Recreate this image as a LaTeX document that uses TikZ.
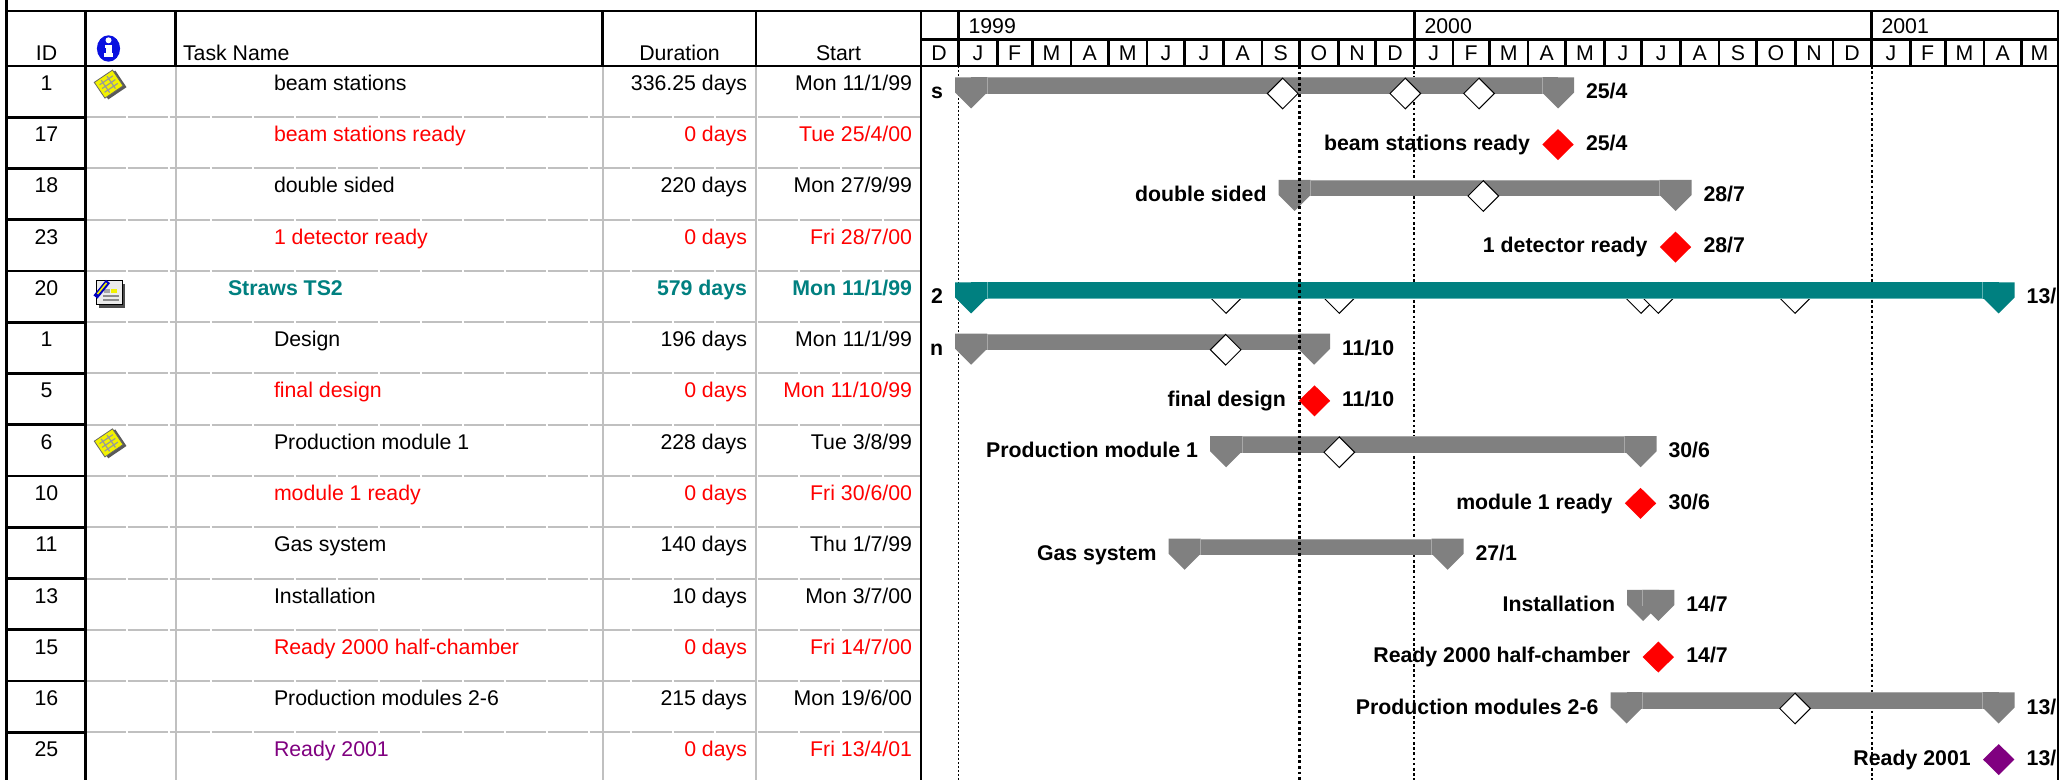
\documentclass[tikz,border=0pt]{standalone}
\usepackage{fontspec}
\setmainfont{Liberation Sans}
\definecolor{tealc}{HTML}{008080}
\definecolor{tealhi}{HTML}{5FB3B3}
\definecolor{barg}{HTML}{808080}
\definecolor{barhi}{HTML}{A8A8A8}
\definecolor{gridg}{HTML}{C0C0C0}
\definecolor{msred}{HTML}{FF0000}
\definecolor{mspurple}{HTML}{800080}
\definecolor{infoblue}{HTML}{0A10E0}
\definecolor{noteyel}{HTML}{F2F200}

\newcommand\rowtop[1]{\pgfmathsetmacro\rT{66+51.25*(#1-1)}}
% table row: row, id, name x, name, name style, duration, start, data style
\newcommand\taskrow[8]{%
  \rowtop{#1}%
  \pgfmathsetmacro\rB{\rT+24.5}%
  \node[txt,anchor=base] (id#1) at (46.5,\rB) {#2};
  \node[txt,anchor=base west,#5] (nm#1) at (#3,\rB) {#4};
  \node[txt,anchor=base east,#8] (du#1) at (747,\rB) {#6};
  \node[txt,anchor=base east,#8] (st#1) at (912,\rB) {#7};
}
% summary cap: x, row top, colour
\newcommand\gcap[3]{%
  \fill[#3] ({#1-16},{#2+11.3}) -- ({#1+16},{#2+11.3}) -- ({#1+16},{#2+26.5})
    -- (#1,{#2+42.5}) -- ({#1-16},{#2+26.5}) -- cycle;}
% summary bar: row, xs, xe, colour, highlight y offset, highlight colour
\newcommand\sbar[6]{%
  \rowtop{#1}%
  \fill[#4] (#2,{\rT+11.3}) rectangle (#3,{\rT+28});
  \draw[#6,line width=0.5pt] ({#2+16},{\rT+#5}) -- ({#3-16},{\rT+#5});
  \gcap{#2}{\rT}{#4}
  \gcap{#3}{\rT}{#4}
  \draw[#6,line width=0.5pt] ({#2+16},{\rT+11.3}) -- ({#2+16},{\rT+28});
  \draw[#6,line width=0.5pt] ({#3-16},{\rT+11.3}) -- ({#3-16},{\rT+28});
}
% milestone: x, row top, colour
\newcommand\mstone[3]{%
  \fill[#3] ({#1-15.7},{#2+27.3}) -- (#1,{#2+11.8}) -- ({#1+15.7},{#2+27.3})
    -- (#1,{#2+42.8}) -- cycle;}
% rolled-up white diamond: x, centre y
\newcommand\wdiam[2]{%
  \filldraw[fill=white,draw=black,line width=0.5pt] ({#1-15.3},#2) -- (#1,{#2-15.3})
    -- ({#1+15.3},#2) -- (#1,{#2+15.3}) -- cycle;}
% bar labels: x of bar end, row top, text, name
\newcommand\llab[4]{\node[lab,anchor=base east] (#4) at ({#1-28},{#2+33}) {#3};}
\newcommand\rlab[4]{\node[lab,anchor=base west] (#4) at ({#1+28},{#2+33}) {#3};}
% note icon
\newcommand\noteicon[2]{%
  \begin{scope}[shift={(#1,#2)},rotate=34]
    \fill[black!65] (-9,-8) rectangle (13,12);
    \filldraw[fill=noteyel,draw=black!60,line width=0.4pt] (-11,-10) rectangle (11,9);
    \draw[black!40,line width=0.6pt] (-8,-5) -- (8,-5) (-8,-0.5) -- (8,-0.5) (-8,4) -- (8,4)
      (-4,-8) -- (-4,7) (3,-8) -- (3,7);
  \end{scope}}

\begin{document}
\begin{tikzpicture}[x=0.5pt,y=-0.5pt,
  txt/.style={inner sep=0pt,outer sep=0pt,font=\fontsize{10.65}{12.8}\selectfont},
  lab/.style={inner sep=0pt,outer sep=0pt,font=\fontsize{10.65}{12.8}\selectfont\bfseries},
  crit/.style={text=msred},
  summ/.style={text=tealc,font=\fontsize{10.65}{12.8}\selectfont\bfseries},
  purp/.style={text=mspurple},
  blk/.style={line width=1.3pt,draw=black},
  gridl/.style={line width=1pt,draw=gridg},
  gridh/.style={line width=1pt,draw=gridg,dash pattern=on 20.2pt off 0.8pt},
  thindot/.style={line width=0.5pt,draw=black,dash pattern=on 1pt off 1pt},
  meddot/.style={line width=1pt,draw=black,dash pattern=on 1.3pt off 1.3pt},
  nowdot/.style={line width=1.4pt,draw=black,dash pattern=on 1.4pt off 1.4pt}]

\fill[white] (0,0) rectangle (2060,780);
\useasboundingbox (0,0) rectangle (2060,780);

% ---------- table grid ----------
\foreach \k in {1,...,13} {\pgfmathsetmacro\yy{66+51.25*\k}\draw[gridh] (85.7,\yy) -- (921,\yy);}
\foreach \xx in {175.7,602.7,756} \draw[gridl] (\xx,66) -- (\xx,780);
\foreach \k in {1,...,13} {\pgfmathsetmacro\yy{66+51.25*\k}\draw[blk] (6.3,\yy) -- (85.7,\yy);}
\draw[blk] (6.3,0) -- (6.3,780);
\draw[blk] (5,11) -- (2059,11);
\draw[blk] (5,66) -- (2059,66);
\draw[blk] (85.7,11) -- (85.7,780);
\draw[blk] (921,11) -- (921,780);
\draw[blk] (2057.8,11) -- (2057.8,780);
\foreach \xx in {175.7,602.7,756} \draw[blk] (\xx,11) -- (\xx,66);
\draw[blk] (921,39.3) -- (2057.8,39.3);
\foreach \d in {0,365,731} \draw[blk] ({958.5+1.249*\d},11) -- ({958.5+1.249*\d},39.3);
\foreach \d in {0,31,59,90,120,151,181,212,243,273,304,334,365,396,425,456,486,517,547,578,609,639,670,700,731,762,790,821,851}
  \draw[blk] ({958.5+1.249*\d},39.3) -- ({958.5+1.249*\d},66);

% ---------- header ----------
\node[txt,anchor=base] (hID) at (46.5,60.5) {ID};
\fill[infoblue] (108.5,48.5) ellipse [x radius=5.8pt, y radius=6.6pt];
\fill[white] (108.5,40.3) circle [radius=1.5pt];
\fill[white] (104.5,45) rectangle (111.5,48);
\fill[white] (106.2,45) rectangle (111.5,55);
\fill[white] (104,53) rectangle (113,56.8);
\node[txt,anchor=base west] (hTN) at (183,60.5) {Task Name};
\node[txt,anchor=base] (hDur) at (679.5,60.5) {Duration};
\node[txt,anchor=base] (hSt) at (838.5,60.5) {Start};
\node[txt,anchor=base west] (y1999) at (968.5,33.3) {1999};
\node[txt,anchor=base west] (y2000) at (1424.5,33.3) {2000};
\node[txt,anchor=base west] (y2001) at (1881.5,33.3) {2001};
\foreach \a/\b/\m [count=\k] in {-31/0/D,0/31/J,31/59/F,59/90/M,90/120/A,120/151/M,151/181/J,181/212/J,212/243/A,243/273/S,273/304/O,304/334/N,334/365/D,365/396/J,396/425/F,425/456/M,456/486/A,486/517/M,517/547/J,547/578/J,578/609/A,609/639/S,639/670/O,670/700/N,700/731/D,731/762/J,762/790/F,790/821/M,821/851/A,851/880/M}
  \node[txt,anchor=base] (mo\k) at ({958.5+1.249*(\a+\b)/2},60.5) {\m};

% ---------- table rows ----------
\taskrow{1}{1}{274}{beam stations}{}{336.25 days}{Mon 11/1/99}{}
\taskrow{2}{17}{274}{beam stations ready}{crit}{0 days}{Tue 25/4/00}{crit}
\taskrow{3}{18}{274}{double sided}{}{220 days}{Mon 27/9/99}{}
\taskrow{4}{23}{274}{1 detector ready}{crit}{0 days}{Fri 28/7/00}{crit}
\taskrow{5}{20}{228}{Straws TS2}{summ}{579 days}{Mon 11/1/99}{summ}
\taskrow{6}{1}{274}{Design}{}{196 days}{Mon 11/1/99}{}
\taskrow{7}{5}{274}{final design}{crit}{0 days}{Mon 11/10/99}{crit}
\taskrow{8}{6}{274}{Production module 1}{}{228 days}{Tue 3/8/99}{}
\taskrow{9}{10}{274}{module 1 ready}{crit}{0 days}{Fri 30/6/00}{crit}
\taskrow{10}{11}{274}{Gas system}{}{140 days}{Thu 1/7/99}{}
\taskrow{11}{13}{274}{Installation}{}{10 days}{Mon 3/7/00}{}
\taskrow{12}{15}{274}{Ready 2000 half-chamber}{crit}{0 days}{Fri 14/7/00}{crit}
\taskrow{13}{16}{274}{Production modules 2-6}{}{215 days}{Mon 19/6/00}{}
\taskrow{14}{25}{274}{Ready 2001}{purp}{0 days}{Fri 13/4/01}{crit}

% ---------- icons ----------
\noteicon{109}{84.5}
\noteicon{109}{443.3}
\begin{scope}
  \fill[black!70] (99,284) rectangle (125,308);
  \filldraw[fill=black!8,draw=black,line width=0.5pt] (96.5,281) rectangle (122,305);
  \fill[black!35] (104,289) rectangle (110,293);
  \fill[noteyel] (111,289) rectangle (117,293);
  \draw[black!45,line width=0.6pt] (103,296) -- (119,296) (103,300) -- (119,300);
  \draw[line width=2.6pt,draw=blue!75!black] (95.5,297) -- (108,281.5);
  \draw[line width=0.8pt,draw=noteyel] (97.5,294) -- (106.5,283);
\end{scope}

% ---------- chart: background gridlines ----------
\draw[thindot] (958.5,66) -- (958.5,780);
\draw[meddot] (1414.4,66) -- (1414.4,780);
\draw[meddot] (1871.5,66) -- (1871.5,780);

% ---------- bars ----------
% row 1 beam stations
\sbar{1}{971}{1558}{barg}{11.8}{barhi}
\wdiam{1282.7}{93.5}\wdiam{1405.3}{93.5}\wdiam{1479}{93.5}
\llab{971}{\rT}{s}{L1}\rlab{1558}{\rT}{25/4}{R1}
% row 2
\rowtop{2}\mstone{1558}{\rT}{msred}
\llab{1558}{\rT}{beam stations ready}{L2}\rlab{1558}{\rT}{25/4}{R2}
% row 3
\sbar{3}{1294.5}{1675.5}{barg}{11.8}{barhi}
\wdiam{1483.3}{\rT+27.5}
\llab{1294.5}{\rT}{double sided}{L3}\rlab{1675.5}{\rT}{28/7}{R3}
% row 4
\rowtop{4}\mstone{1675.5}{\rT}{msred}
\llab{1675.5}{\rT}{1 detector ready}{L4}\rlab{1675.5}{\rT}{28/7}{R4}
% row 5 Straws TS2 (rolled-up milestones under the bar)
\rowtop{5}
\foreach \xx in {1226,1339.3,1641,1658.3,1795} \wdiam{\xx}{\rT+27};
\sbar{5}{971}{1998.7}{tealc}{27.5}{tealhi}
\llab{971}{\rT}{2}{L5}\rlab{1998.7}{\rT}{13/}{R5}
% row 6 Design
\sbar{6}{971}{1314}{barg}{11.8}{barhi}
\wdiam{1225.7}{\rT+27.5}
\llab{971}{\rT}{n}{L6}\rlab{1314}{\rT}{11/10}{R6}
% row 7
\rowtop{7}\mstone{1314.5}{\rT}{msred}
\llab{1314}{\rT}{final design}{L7}\rlab{1314}{\rT}{11/10}{R7}
% row 8
\sbar{8}{1226}{1640.5}{barg}{11.8}{barhi}
\wdiam{1339.3}{\rT+27.5}
\llab{1226}{\rT}{Production module 1}{L8}\rlab{1640.5}{\rT}{30/6}{R8}
% row 9
\rowtop{9}\mstone{1640.5}{\rT}{msred}
\llab{1640.5}{\rT}{module 1 ready}{L9}\rlab{1640.5}{\rT}{30/6}{R9}
% row 10
\sbar{10}{1184.6}{1447.5}{barg}{11.8}{barhi}
\llab{1184.6}{\rT}{Gas system}{L10}\rlab{1447.5}{\rT}{27/1}{R10}
% row 11 Installation
\rowtop{11}
\gcap{1643}{\rT}{barg}\gcap{1658.3}{\rT}{barg}
\draw[barhi,line width=0.5pt] (1642.3,{\rT+11.3}) -- (1642.3,{\rT+27});
\llab{1643}{\rT}{Installation}{L11}\rlab{1658.3}{\rT}{14/7}{R11}
% row 12
\rowtop{12}\mstone{1658.3}{\rT}{msred}
\llab{1658.3}{\rT}{Ready 2000 half-chamber}{L12}\rlab{1658.3}{\rT}{14/7}{R12}
% row 13
\sbar{13}{1626.5}{1998.7}{barg}{11.8}{barhi}
\wdiam{1795}{\rT+27.5}
\llab{1626.5}{\rT}{Production modules 2-6}{L13}\rlab{1998.7}{\rT}{13/}{R13}
% row 14
\rowtop{14}\mstone{1998.7}{\rT}{mspurple}
\llab{1998.7}{\rT}{Ready 2001}{L14}\rlab{1998.7}{\rT}{13/}{R14}

% ---------- current date line (on top) ----------
\draw[nowdot] (1299.3,66) -- (1299.3,780);

\end{tikzpicture}
\end{document}
